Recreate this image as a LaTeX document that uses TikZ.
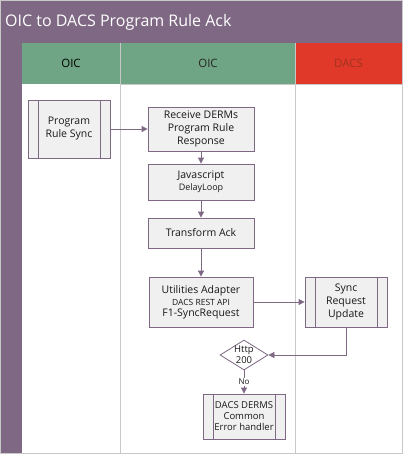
\documentclass[tikz,border=0pt]{standalone}
\usepackage{fontspec}
\setmainfont{Open Sans}
\usetikzlibrary{shapes.geometric,arrows.meta}
\definecolor{purp}{HTML}{7E6883}
\definecolor{lanegreen}{HTML}{6FA584}
\definecolor{lanered}{HTML}{E0392A}
\definecolor{darkred}{HTML}{A3321F}
\definecolor{boxgray}{HTML}{F0F0F0}
\definecolor{lanegray}{HTML}{C8C8C8}
\tikzset{
  procbox/.style={draw=purp, fill=boxgray, line width=0.8pt, align=center, inner sep=1pt,
    font=\fontsize{10.5}{13}\selectfont, text=black!90},
  subproc/.style={procbox, path picture={
    \draw[purp, line width=0.8pt] ([xshift=10pt]path picture bounding box.north west) -- ([xshift=10pt]path picture bounding box.south west);
    \draw[purp, line width=0.8pt] ([xshift=-10pt]path picture bounding box.north east) -- ([xshift=-10pt]path picture bounding box.south east);}},
  flow/.style={draw=purp, line width=0.8pt, -{Triangle[length=6pt,width=6pt]}},
  lanehead/.style={minimum height=41pt, inner sep=0pt, font=\fontsize{11.5}{13}\selectfont},
}
\begin{document}
\begin{tikzpicture}[x=1pt,y=-1pt]
\useasboundingbox (0,0) rectangle (403,455);
\fill[white] (0,0) rectangle (403,455);
% title bar
\fill[purp] (0,0) rectangle (403,43);
\node[anchor=west, text=white, font=\fontsize{16}{19}\selectfont, inner sep=0pt] (title) at (5,22) {OIC to DACS Program Rule Ack};
% left strip
\fill[purp] (0,43) rectangle (22,453);
% lane headers
\node[lanehead, fill=lanegreen, minimum width=98pt, text=black] (h1) at (71,63.5) {OIC};
\node[lanehead, fill=lanegreen, minimum width=174pt, text=black!85] (h2) at (208,63.5) {OIC};
\node[lanehead, fill=lanered, minimum width=107pt, text=darkred] (h3) at (348.5,63.5) {DACS};
% lane lines
\draw[lanegray, line width=0.6pt] (120,43) -- (120,453);
\draw[lanegray, line width=0.6pt] (295,43) -- (295,453);
\draw[lanegray, line width=0.6pt] (120,84) -- (402,84);
\draw[lanegray, line width=0.8pt] (0,0) rectangle (402.5,453);
% nodes
\node[subproc, minimum width=82pt, minimum height=58pt] (prs) at (69,129) {Program\\Rule Sync};
\node[procbox, minimum width=106pt, minimum height=44pt] (recv) at (201,129) {Receive DERMs\\Program Rule\\Response};
\node[procbox, minimum width=106pt, minimum height=36pt] (js) at (201,182) {Javascript\\[-1pt]{\fontsize{9}{10}\selectfont DelayLoop}};
\node[procbox, minimum width=106pt, minimum height=30pt] (ta) at (201,233) {Transform Ack};
\node[procbox, minimum width=104pt, minimum height=50pt] (ua) at (201,302) {Utilities Adapter\\[-1pt]{\fontsize{8.5}{10}\selectfont DACS REST API}\\[-2pt]{\fontsize{10.5}{12}\selectfont F1-SyncRequest}};
\node[subproc, minimum width=82pt, minimum height=50pt] (sru) at (346,302) {Sync\\Request\\Update};
\node[diamond, draw=purp, fill=white, line width=0.8pt, minimum width=48pt, minimum height=30pt, inner sep=0pt] (dia) at (244,355) {};
\node[font=\fontsize{9.5}{11}\selectfont, align=center, inner sep=0pt, text=black!90] (diatxt) at (dia) {Http\\200};
\node[subproc, minimum width=82pt, minimum height=45pt, font=\fontsize{9.5}{11}\selectfont] (err) at (244,416.5) {DACS DERMS\\Common\\Error handler};
% connectors
\draw[flow] (prs) -- (recv);
\draw[flow] (recv) -- (js);
\draw[flow] (js) -- (ta);
\draw[flow] (ta) -- (ua);
\draw[flow] (ua) -- (sru);
\draw[flow] (sru.south) |- (dia.east);
\draw[flow] (dia.south) -- node[fill=white, inner sep=1pt, font=\fontsize{8}{9}\selectfont, text=black!90] (nolbl) {No} (err.north);
\end{tikzpicture}
\end{document}
